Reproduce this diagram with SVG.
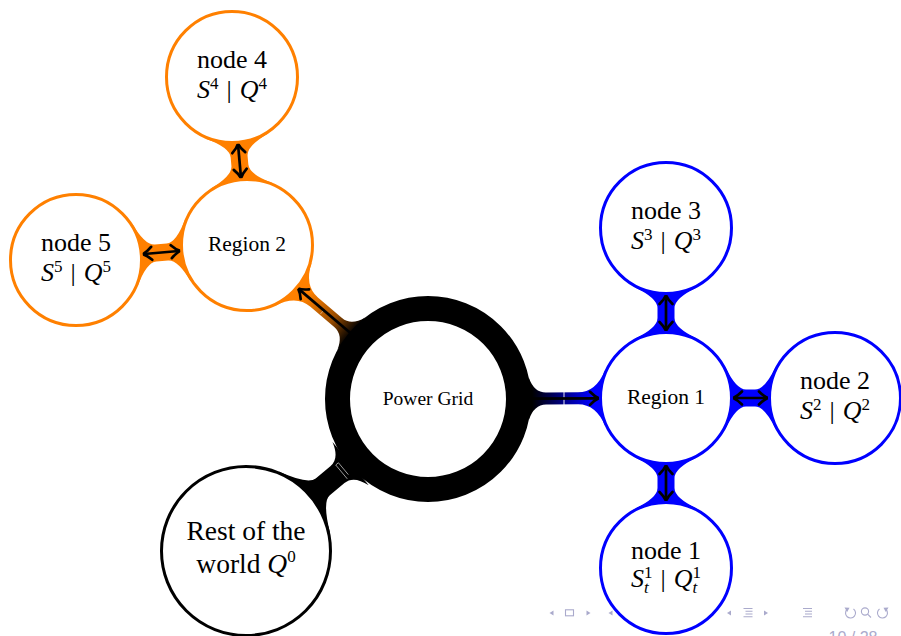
<svg xmlns="http://www.w3.org/2000/svg" width="901" height="636" viewBox="0 0 901 636">
  <defs>
    <style>
      .lbl { font-family: "Liberation Serif", "DejaVu Serif", serif; fill: #000; text-anchor: middle; }
      .big { font-size: 26px; }
      .mid { font-size: 21.5px; }
      .pg { font-size: 19.5px; }
      .rw { font-size: 27.5px; }
      .it { font-style: italic; }
      .sc { font-size: 17px; }
      .orange { fill: #fff; stroke: #ff8000; stroke-width: 3; }
      .blue { fill: #fff; stroke: #0000ff; stroke-width: 3; }
      .black { fill: #fff; stroke: #000; stroke-width: 3; }
      .arrow { fill: none; stroke: #000; stroke-width: 2.7; }
      .nav { fill: #aaaacc; stroke: none; }
      .navl { fill: none; stroke: #aaaacc; stroke-width: 1.1; }
    </style>
    <marker id="head" markerUnits="userSpaceOnUse" markerWidth="20" markerHeight="20" viewBox="-10 -10 20 20" refX="0" refY="0" orient="auto-start-reverse" overflow="visible">
      <path d="M -7.5,-6.5 Q -2.8,-1.7 1.3,0 Q -2.8,1.7 -7.5,6.5" fill="none" stroke="#000" stroke-width="2.7" stroke-linecap="round"/>
    </marker>
    <linearGradient id="gBlue" gradientUnits="userSpaceOnUse" x1="104" y1="0" x2="164" y2="0">
      <stop offset="0" stop-color="#000"/>
      <stop offset="1" stop-color="#0000ff"/>
    </linearGradient>
    <linearGradient id="gOrange" gradientUnits="userSpaceOnUse" x1="100" y1="0" x2="160" y2="0">
      <stop offset="0" stop-color="#000"/>
      <stop offset="0.4" stop-color="#9a4d00"/>
      <stop offset="1" stop-color="#ff8000"/>
    </linearGradient>
  </defs>

  <!-- connection bars and arrows, each drawn in the frame of its source concept -->
  <g id="connectors">
    <!-- Power Grid -> Region 1 -->
    <g transform="translate(428,399) rotate(-0.24)">
      <path fill="url(#gBlue)" d="M100.75,-21.4 Q106,-6 118,-6 L150,-6 Q168,-6 177.3,-28.3 L177.3,28.3 Q168,6 150,6 L118,6 Q106,6 100.75,21.4 Z"/>
      <line x1="136" y1="-7" x2="136" y2="7" stroke="#fff" stroke-width="1" opacity="0.9"/>
      <path class="arrow" d="M98,0 L169.5,0" marker-end="url(#head)"/>
    </g>
    <!-- Power Grid -> Region 2 -->
    <g transform="translate(428,399) rotate(-139.61)">
      <path fill="url(#gOrange)" d="M100.75,-21.4 Q106,-6 118,-6 L149.65,-6 Q167.65,-6 176.95,-28.3 L176.95,28.3 Q167.65,6 149.65,6 L118,6 Q106,6 100.75,21.4 Z"/>
      <line x1="137" y1="-5" x2="137" y2="-1" stroke="#fff" stroke-width="0.8" opacity="0.5"/>
      <path class="arrow" d="M98,0 L169.15,0" marker-end="url(#head)"/>
    </g>
    <!-- Rest of the world -> Power Grid -->
    <g transform="translate(246,551) rotate(-39.87)">
      <path fill="#000" d="M75.9,-40.4 Q90,-11 100,-11 L119.1,-11 Q131.1,-11 136.3,-28.3 L136.3,28.3 Q131.1,11 119.1,11 L100,11 Q90,11 75.9,40.4 Z"/>
      <polyline points="124,9.5 124,-8.5 127.5,-8.5 127.5,7" fill="none" stroke="#fff" stroke-width="0.7" opacity="0.8"/>
    </g>
    <!-- Region 1 -> node 3 -->
    <g transform="translate(666,398) rotate(-90)">
      <path fill="#0000ff" d="M59.2,-31.5 Q70,-8.5 80,-8.5 L90,-8.5 Q100,-8.5 110.8,-31.5 L110.8,31.5 Q100,8.5 90,8.5 L80,8.5 Q70,8.5 59.2,31.5 Z"/>
      <path class="arrow" d="M68.5,0 L101.5,0" marker-start="url(#head)" marker-end="url(#head)"/>
    </g>
    <!-- Region 1 -> node 2 -->
    <g transform="translate(666,398)">
      <path fill="#0000ff" d="M59.2,-31.5 Q70,-8.5 80,-8.5 L89,-8.5 Q99,-8.5 109.8,-31.5 L109.8,31.5 Q99,8.5 89,8.5 L80,8.5 Q70,8.5 59.2,31.5 Z"/>
      <path class="arrow" d="M68.5,0 L100.5,0" marker-start="url(#head)" marker-end="url(#head)"/>
    </g>
    <!-- Region 1 -> node 1 -->
    <g transform="translate(666,398) rotate(90)">
      <path fill="#0000ff" d="M59.2,-31.5 Q70,-8.5 80,-8.5 L90,-8.5 Q100,-8.5 110.8,-31.5 L110.8,31.5 Q100,8.5 90,8.5 L80,8.5 Q70,8.5 59.2,31.5 Z"/>
      <path class="arrow" d="M68.5,0 L101.5,0" marker-start="url(#head)" marker-end="url(#head)"/>
    </g>
    <!-- Region 2 -> node 4 -->
    <g transform="translate(247,245) rotate(-95.1)">
      <path fill="#ff8000" d="M59.2,-31.5 Q70,-8.5 80,-8.5 L88.7,-8.5 Q98.7,-8.5 109.5,-31.5 L109.5,31.5 Q98.7,8.5 88.7,8.5 L80,8.5 Q70,8.5 59.2,31.5 Z"/>
      <path class="arrow" d="M68.5,0 L100.2,0" marker-start="url(#head)" marker-end="url(#head)"/>
    </g>
    <!-- Region 2 -> node 5 -->
    <g transform="translate(247,245) rotate(174.99)">
      <path fill="#ff8000" d="M59.2,-31.5 Q70,-8.5 80,-8.5 L91.7,-8.5 Q101.7,-8.5 112.5,-31.5 L112.5,31.5 Q101.7,8.5 91.7,8.5 L80,8.5 Q70,8.5 59.2,31.5 Z"/>
      <path class="arrow" d="M68.5,0 L103.2,0" marker-start="url(#head)" marker-end="url(#head)"/>
    </g>
  </g>

  <!-- slide navigation symbols -->
  <g id="navigation">
    <polygon class="nav" points="549.5,613 553.5,610.5 553.5,615.5"/>
    <rect class="navl" x="565.5" y="609.8" width="8" height="6"/>
    <polygon class="nav" points="586.5,610.5 590.5,613 586.5,615.5"/>
    <polygon class="nav" points="608.5,613 612.5,610.5 612.5,615.5"/>
    <polygon class="nav" points="727,613 731,610.5 731,615.5"/>
    <path class="navl" d="M743.5,608.5 H752.5 M745.5,611.3 H752.5 M745.5,614 H752.5 M743.5,616.8 H752.5"/>
    <polygon class="nav" points="764,610.5 768,613 764,615.5"/>
    <path class="navl" d="M803,608.5 H812 M805,611.3 H812 M805,614 H812 M803,616.8 H812"/>
    <path class="navl" d="M847,609.5 A5,5 0 1 0 853.5,609"/>
    <polygon class="nav" points="844.5,607.5 849.5,607.8 847.2,612"/>
    <circle class="navl" cx="865" cy="611.5" r="3.6"/>
    <line class="navl" x1="867.6" y1="614.1" x2="871" y2="617.5"/>
    <path class="navl" d="M886,609.5 A5,5 0 1 1 879.5,609"/>
    <polygon class="nav" points="888.5,607.5 883.5,607.8 885.8,612"/>
    <text x="853" y="643" font-family="'Liberation Sans', 'DejaVu Sans', sans-serif" font-size="16" fill="#aaaacc" text-anchor="middle">10 / 28</text>
  </g>

  <!-- concepts -->
  <g id="power-grid">
    <circle cx="428" cy="399" r="90.5" fill="#fff" stroke="#000" stroke-width="25"/>
    <text class="lbl pg" x="428" y="405">Power Grid</text>
  </g>

  <g id="rest-of-world">
    <circle class="black" cx="246" cy="551" r="84.5"/>
    <text class="lbl rw" x="246" y="540">Rest of the</text>
    <text class="lbl rw" x="246" y="573">world <tspan class="it">Q</tspan><tspan class="sc" dy="-11">0</tspan></text>
  </g>

  <g id="region-1">
    <circle class="blue" cx="666" cy="398" r="65.5"/>
    <text class="lbl mid" x="666" y="404">Region 1</text>
  </g>

  <g id="region-2">
    <circle class="orange" cx="247" cy="245" r="65.5"/>
    <text class="lbl mid" x="247" y="251">Region 2</text>
  </g>

  <g id="node-1">
    <circle class="blue" cx="666" cy="568" r="65.5"/>
    <text class="lbl big" x="666" y="558.5">node 1</text>
    <text class="lbl big" x="666" y="587"><tspan class="it">S</tspan><tspan class="sc" dy="-9">1</tspan><tspan class="sc it" dx="-8.5" dy="15">t</tspan><tspan dx="12" dy="-6">|</tspan><tspan class="it" dx="8">Q</tspan><tspan class="sc" dy="-9">1</tspan><tspan class="sc it" dx="-8.5" dy="15">t</tspan></text>
  </g>

  <g id="node-2">
    <circle class="blue" cx="835" cy="398" r="65.5"/>
    <text class="lbl big" x="835" y="389">node 2</text>
    <text class="lbl big" x="835" y="418.5"><tspan class="it">S</tspan><tspan class="sc" dy="-9">2</tspan><tspan dx="8" dy="9">|</tspan><tspan class="it" dx="8">Q</tspan><tspan class="sc" dy="-9">2</tspan></text>
  </g>

  <g id="node-3">
    <circle class="blue" cx="666" cy="228" r="65.5"/>
    <text class="lbl big" x="666" y="219">node 3</text>
    <text class="lbl big" x="666" y="248.5"><tspan class="it">S</tspan><tspan class="sc" dy="-9">3</tspan><tspan dx="8" dy="9">|</tspan><tspan class="it" dx="8">Q</tspan><tspan class="sc" dy="-9">3</tspan></text>
  </g>

  <g id="node-4">
    <circle class="orange" cx="232" cy="77" r="65.5"/>
    <text class="lbl big" x="232" y="68">node 4</text>
    <text class="lbl big" x="232" y="97.5"><tspan class="it">S</tspan><tspan class="sc" dy="-9">4</tspan><tspan dx="8" dy="9">|</tspan><tspan class="it" dx="8">Q</tspan><tspan class="sc" dy="-9">4</tspan></text>
  </g>

  <g id="node-5">
    <circle class="orange" cx="76" cy="260" r="65.5"/>
    <text class="lbl big" x="76" y="251">node 5</text>
    <text class="lbl big" x="76" y="280.5"><tspan class="it">S</tspan><tspan class="sc" dy="-9">5</tspan><tspan dx="8" dy="9">|</tspan><tspan class="it" dx="8">Q</tspan><tspan class="sc" dy="-9">5</tspan></text>
  </g>
</svg>
